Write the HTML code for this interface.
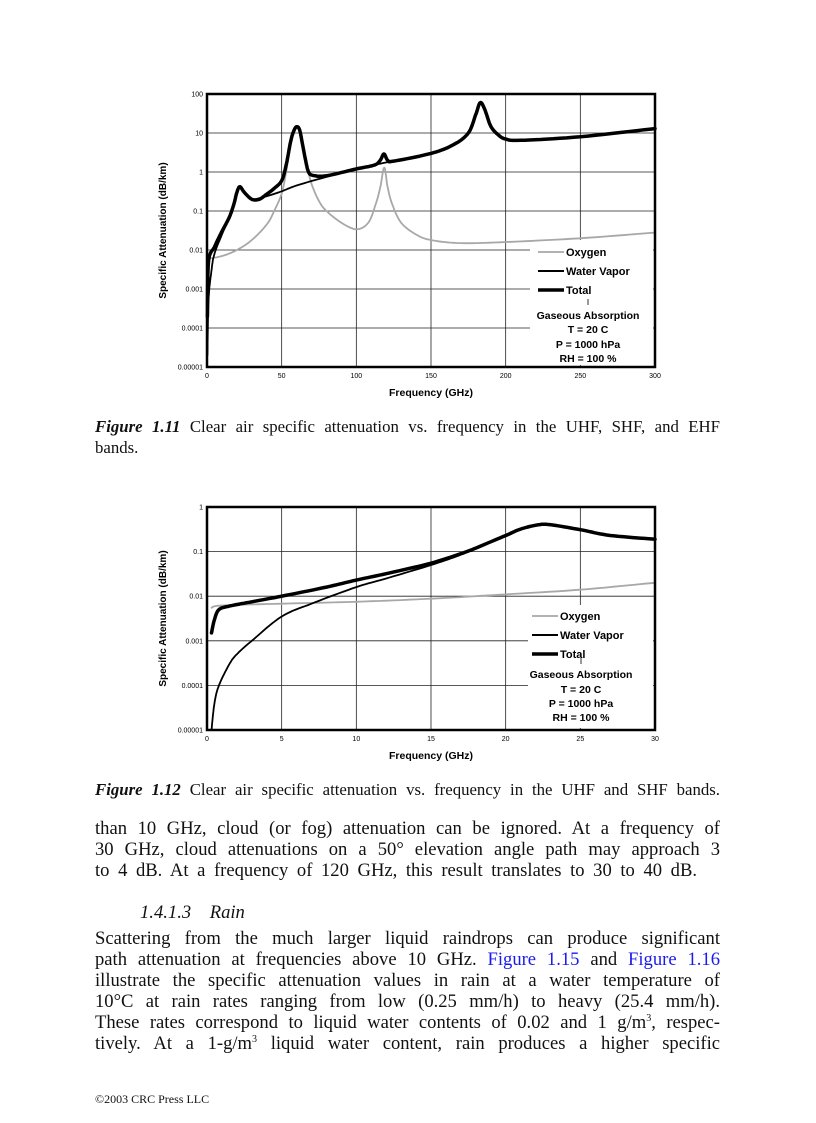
<!DOCTYPE html>
<html><head><meta charset="utf-8"><style>
body{margin:0;background:#fff;width:816px;height:1123px;position:relative;overflow:hidden;font-family:"Liberation Serif",serif;color:#111}
.l{position:absolute;left:95px;width:625px;font-size:18.6px;line-height:21px;text-align:justify;text-align-last:justify;white-space:nowrap}
.c{position:absolute;left:95px;width:625px;font-size:16.8px;line-height:21px;white-space:nowrap}
a{color:#1a1aee;text-decoration:none}
svg{position:absolute;left:0;top:0}
</style></head><body>
<svg id="s" width="816" height="1123" font-family="Liberation Sans, sans-serif"></svg>
<div class="c" style="top:416px;text-align:justify;text-align-last:justify"><b><i>Figure 1.11</i></b> Clear air specific attenuation vs. frequency in the UHF, SHF, and EHF</div>
<div class="c" style="top:437px">bands.</div>
<div class="c" style="top:779px;text-align:justify;text-align-last:justify"><b><i>Figure 1.12</i></b> Clear air specific attenuation vs. frequency in the UHF and SHF bands.</div>
<div class="l" style="top:818px">than 10 GHz, cloud (or fog) attenuation can be ignored. At a frequency of</div>
<div class="l" style="top:839px">30 GHz, cloud attenuations on a 50° elevation angle path may approach 3</div>
<div class="l" style="top:860px;width:602px">to 4 dB. At a frequency of 120 GHz, this result translates to 30 to 40 dB.</div>
<div class="l" style="top:902px;left:140px;text-align-last:left;font-style:italic">1.4.1.3&nbsp;&nbsp;&nbsp;&nbsp;Rain</div>
<div class="l" style="top:928px">Scattering from the much larger liquid raindrops can produce significant</div>
<div class="l" style="top:949px">path attenuation at frequencies above 10 GHz. <a>Figure 1.15</a> and <a>Figure 1.16</a></div>
<div class="l" style="top:970px">illustrate the specific attenuation values in rain at a water temperature of</div>
<div class="l" style="top:991px">10°C at rain rates ranging from low (0.25 mm/h) to heavy (25.4 mm/h).</div>
<div class="l" style="top:1012px">These rates correspond to liquid water contents of 0.02 and 1 g/m<sup style="font-size:10px;line-height:0">3</sup>, respec-</div>
<div class="l" style="top:1033px">tively. At a 1-g/m<sup style="font-size:10px;line-height:0">3</sup> liquid water content, rain produces a higher specific</div>
<div style="position:absolute;left:95px;top:1092px;font-size:12px">©2003 CRC Press LLC</div>
<script>
const S=document.getElementById('s');let h='';
function chart(o){
 const {L,R,T,B,xmax,dec,yl,xt,series,leg}=o;
 const px=x=>L+(R-L)*x/xmax, pl=l=>B-(B-T)*(l+5)/dec, py=v=>pl(Math.log10(v));
 for(let i=0;i<=dec;i++){const y=py(Math.pow(10,i-5));h+=`<line x1="${L}" x2="${R}" y1="${y}" y2="${y}" stroke="#222" stroke-width="0.8"/><text x="${L-4}" y="${y+2.5}" font-size="7" text-anchor="end">${yl[i]}</text>`;}
 xt.forEach(t=>{const x=px(t);h+=`<line x1="${x}" x2="${x}" y1="${T}" y2="${B}" stroke="#222" stroke-width="0.8"/><text x="${x}" y="${B+11}" font-size="7" text-anchor="middle">${t}</text>`;});
 h+=`<rect x="${leg.x}" y="${leg.y}" width="${R-leg.x-2}" height="${B-leg.y-2}" fill="#fff"/>`;
 series.forEach(s=>{let d='';const p=s.p.map(q=>[px(q[0]),pl(Math.log10(q[1]))]);const n=p.length;
  for(let i=0;i<n-1;i++){const p0=p[Math.max(0,i-1)],p1=p[i],p2=p[i+1],p3=p[Math.min(n-1,i+2)];
   for(let k=0;k<10;k++){const t=k/10,t2=t*t,t3=t2*t;
    const f=(a,b,c,e)=>0.5*((2*b)+(-a+c)*t+(2*a-5*b+4*c-e)*t2+(-a+3*b-3*c+e)*t3);
    const x=f(p0[0],p1[0],p2[0],p3[0]),y=f(p0[1],p1[1],p2[1],p3[1]);
    d+=(d?'L':'M')+x.toFixed(1)+','+Math.min(B,y).toFixed(1);}}
  d+='L'+p[n-1][0].toFixed(1)+','+p[n-1][1].toFixed(1);
  h+=`<path d="${d}" fill="none" stroke="${s.c}" stroke-width="${s.w}" stroke-linejoin="round" stroke-linecap="round"/>`;});
 h+=`<rect x="${L}" y="${T}" width="${R-L}" height="${B-T}" fill="none" stroke="#000" stroke-width="2.5"/>`;
 const names=[["Oxygen","#999",1.5],["Water Vapor","#000",2],["Total","#000",3.5]];
 names.forEach((n,i)=>{const y=leg.ly+i*19;h+=`<line x1="${leg.lx}" x2="${leg.lx+26}" y1="${y}" y2="${y}" stroke="${n[1]}" stroke-width="${n[2]}"/><text x="${leg.lx+28}" y="${y+4}" font-size="11" font-weight="bold">${n[0]}</text>`;});
 const cx=leg.cx;h+=`<line x1="${cx}" x2="${cx}" y1="${leg.gy[0]-16}" y2="${leg.gy[0]-10}" stroke="#000" stroke-width="0.8"/>`;
 ["Gaseous Absorption","T = 20 C","P = 1000 hPa","RH = 100 %"].forEach((t,i)=>{h+=`<text x="${cx}" y="${leg.gy[i]+4}" font-size="10.5" font-weight="bold" text-anchor="middle">${t}</text>`;});
 h+=`<text x="${(L+R)/2}" y="${B+29}" font-size="10.5" font-weight="bold" text-anchor="middle">Frequency (GHz)</text>`;
 const my=(T+B)/2;h+=`<text transform="translate(${L-41},${my}) rotate(-90)" font-size="10" font-weight="bold" text-anchor="middle">Specific Attenuation (dB/km)</text>`;
}
const yl1=["0.00001","0.0001","0.001","0.01","0.1","1","10","100"];
chart({L:207,R:655,T:94,B:367,xmax:300,dec:7,yl:yl1,xt:[0,50,100,150,200,250,300],
 leg:{x:530,y:240,lx:538,ly:252,cx:588,gy:[315,329,344,358]},
 series:[
 {c:"#a8a8a8",w:1.8,p:[[0.5,0.006],[10,0.007],[20,0.01],[30,0.018],[40,0.045],[45,0.1],[50,0.28],[53,1],[56,5],[60,14],[63,8],[66,2],[70,0.5],[75,0.18],[80,0.1],[90,0.05],[100,0.034],[108,0.05],[113,0.15],[116,0.4],[118.7,1.3],[121,0.4],[124,0.15],[130,0.05],[140,0.025],[150,0.018],[170,0.015],[200,0.016],[250,0.02],[300,0.028]]},
 {c:"#000",w:1.8,p:[[0.3,0.00002],[1,0.0005],[3,0.003],[5,0.008],[10,0.025],[15,0.07],[18,0.15],[20,0.28],[22,0.4],[25,0.3],[30,0.2],[40,0.24],[50,0.32],[60,0.45],[80,0.75],[100,1.2],[118,1.7],[135,2.3],[150,3],[165,5],[175,10],[180,30],[183,60],[186,40],[190,15],[195,9],[200,7],[210,6.5],[250,8],[300,13]]},
 {c:"#000",w:3.5,p:[[0.3,0.0002],[1,0.005],[5,0.012],[10,0.03],[15,0.07],[18,0.15],[20,0.3],[22,0.42],[25,0.3],[30,0.2],[35,0.2],[40,0.27],[45,0.38],[50,0.6],[53,1.5],[56,6],[58,11],[60,14.5],[62,12],[64,5],[66,2],[68,1],[71,0.82],[80,0.8],[100,1.2],[112,1.5],[116,2],[118.5,2.9],[121,2],[125,1.9],[150,3],[165,5],[175,10],[180,30],[183,60],[186,40],[190,15],[195,9],[200,7],[210,6.5],[250,8],[300,13]]}
 ]});
chart({L:207,R:655,T:507,B:730,xmax:30,dec:5,yl:["0.00001","0.0001","0.001","0.01","0.1","1"],xt:[0,5,10,15,20,25,30],
 leg:{x:528,y:605,lx:532,ly:616,cx:581,gy:[674,689,703,717]},
 series:[
 {c:"#a8a8a8",w:1.8,p:[[0.3,0.0055],[1,0.0062],[5,0.0068],[10,0.0075],[15,0.0088],[20,0.011],[25,0.014],[30,0.02]]},
 {c:"#000",w:1.8,p:[[0.3,0.00001],[0.5,0.00004],[0.8,0.0001],[1.5,0.0003],[2,0.0005],[3,0.001],[5,0.0035],[7,0.0068],[10,0.016],[12,0.025],[15,0.05],[17,0.085],[18,0.12],[20,0.22],[21,0.31],[22.2,0.39],[23,0.39],[25,0.3],[27,0.23],[30,0.19]]},
 {c:"#000",w:3.5,p:[[0.3,0.0015],[0.5,0.003],[0.8,0.005],[1.5,0.006],[3,0.0075],[5,0.01],[8,0.016],[10,0.023],[12,0.032],[15,0.055],[17,0.09],[18,0.12],[20,0.23],[21,0.32],[22.2,0.4],[23,0.4],[25,0.31],[27,0.23],[30,0.19]]}
 ]});
S.innerHTML=h;
</script>
</body></html>
